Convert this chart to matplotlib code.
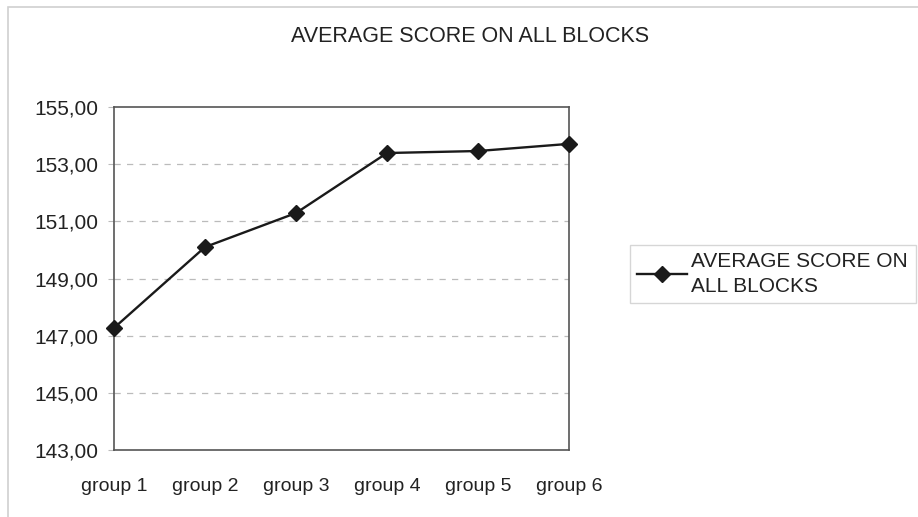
import matplotlib
matplotlib.use("Agg")
import matplotlib.pyplot as plt
from matplotlib.patches import Rectangle

plt.rcParams['font.family'] = ['Liberation Sans', 'DejaVu Sans']

groups = ["group 1", "group 2", "group 3", "group 4", "group 5", "group 6"]
scores = [147.27, 150.10, 151.29, 153.39, 153.46, 153.71]
yticks = [143, 145, 147, 149, 151, 153, 155]
series_name = "AVERAGE SCORE ON\nALL BLOCKS"
title = "AVERAGE SCORE ON ALL BLOCKS"

W, H = 918, 517
fig = plt.figure(figsize=(W / 100, H / 100), dpi=100)

# chart frame
fig.patches.append(Rectangle((8 / W, -0.01), 1.0, 1 - 7 / H + 0.01, transform=fig.transFigure,
                             fill=False, edgecolor="#d0d0d0", linewidth=1.2))

ax = fig.add_axes([114 / W, 1 - 450 / H, (569 - 114) / W, (450 - 107) / H])
x = list(range(len(groups)))
ax.plot(x, scores, color="#1a1a1a", linewidth=1.7, marker="D", markersize=8.5,
        markerfacecolor="#1a1a1a", markeredgecolor="#1a1a1a", label=series_name,
        clip_on=False, zorder=5)

ax.set_xlim(0, len(groups) - 1)
ax.set_ylim(143, 155)
ax.set_xticks(x)
ax.set_xticklabels(groups, fontsize=14, color="#222222")
ax.set_yticks(yticks)
ax.set_yticklabels([f"{v:.2f}".replace(".", ",") for v in yticks], fontsize=15, color="#222222")
ax.tick_params(axis="x", length=0, pad=20)
ax.tick_params(axis="y", length=4, color="#bbbbbb", pad=7)

for v in yticks[1:-1]:
    ax.axhline(v, color="#bbbbbb", linestyle=(0, (5, 5)), linewidth=0.9, zorder=0)

for s in ax.spines.values():
    s.set_color("#555555")
    s.set_linewidth(1.2)

fig.text(470 / W, 1 - 37 / H, title, ha="center", va="center", fontsize=15.5, color="#222222")

leg = fig.legend(loc="center left", bbox_to_anchor=(630 / W, 1 - 274 / H), fontsize=15,
                 frameon=True, fancybox=False, edgecolor="#cccccc", handlelength=2.4,
                 handletextpad=0.2, borderpad=0.35, borderaxespad=0)
leg.get_frame().set_linewidth(1.0)
for t in leg.get_texts():
    t.set_color("#222222")
    t.set_linespacing(1.35)

fig.savefig("out.png", dpi=100)
